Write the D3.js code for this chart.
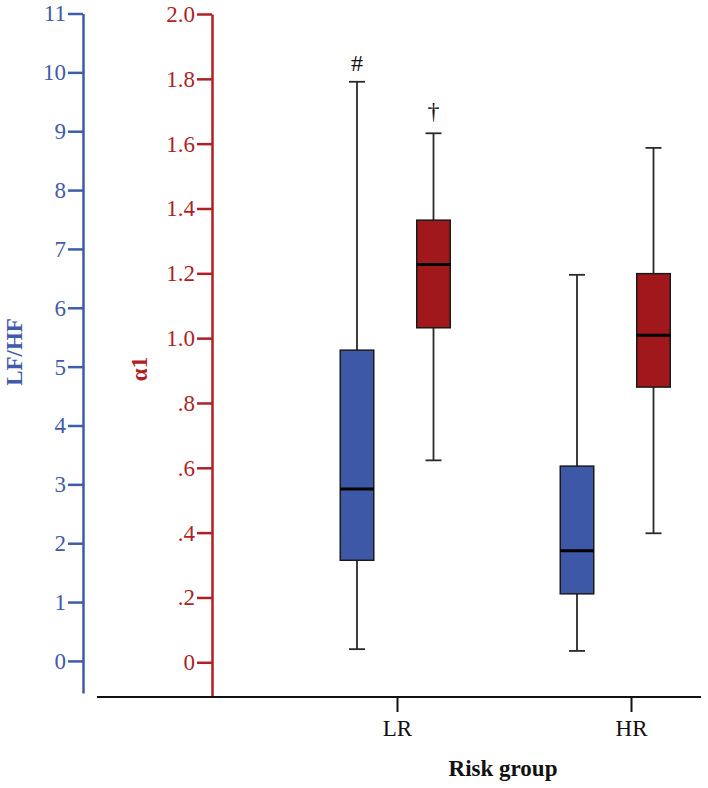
<!DOCTYPE html>
<html>
<head>
<meta charset="utf-8">
<script src="https://cdn.jsdelivr.net/npm/d3@7/dist/d3.min.js"></script>
<style>
  html, body { margin: 0; padding: 0; background: #fff; }
  svg { display: block; font-family: "Liberation Serif", "Times New Roman", serif; }
</style>
</head>
<body>
<svg id="chart" width="708" height="788"></svg>
<script>
// ---- data ----
const groups = ["LR", "HR"];
// LF/HF (left blue axis): [lowWhisker, q1, median, q3, highWhisker]
const lfhfStats = [
  [0.20, 1.71, 2.92, 5.28, 9.84],
  [0.17, 1.14, 1.87, 3.31, 6.56]
];
// alpha1 (red axis)
const alphaStats = [
  [0.623, 1.032, 1.227, 1.364, 1.632],
  [0.398, 0.849, 1.009, 1.199, 1.587]
];
const lfhfTicks = [0, 1, 2, 3, 4, 5, 6, 7, 8, 9, 10, 11];
const alphaTicks = [0, 0.2, 0.4, 0.6, 0.8, 1.0, 1.2, 1.4, 1.6, 1.8, 2.0];
const markers = [
  { series: "lfhf", group: "LR", text: "#" },
  { series: "alpha", group: "LR", text: "\u2020" }
];

// ---- styles ----
const blueAxis = "#3f5baa";
const redAxis = "#b01f24";
const blueFill = "#3e58a8";
const redFill = "#a0171c";
const fontSize = 23;

const svg = d3.select("#chart");

// scales
const yBlue = d3.scaleLinear().domain([-0.545, 11]).range([693, 13.5]);
const yRed = d3.scaleLinear().domain([-0.104, 2.0]).range([696, 14]);
const xAxisScale = d3.scalePoint().domain(groups).range([397, 631]);
const xBlue = d3.scalePoint().domain(groups).range([357, 577]);
const xRed = d3.scalePoint().domain(groups).range([433.5, 653.5]);
const boxW = 33.5, capW = 16;

// Blue axis
const gB = svg.append("g").attr("transform", "translate(83,0)")
  .call(d3.axisLeft(yBlue).tickValues(lfhfTicks).tickSize(15).tickSizeOuter(0).tickPadding(2).tickFormat(d3.format("d")));
gB.selectAll("path, line").attr("stroke", blueAxis).attr("stroke-width", 2.5);
gB.selectAll("text").attr("fill", blueAxis).style("font-size", fontSize + "px").style("font-family", "Liberation Serif");

// Red axis
const fmtRed = v => v === 0 ? "0" : (v < 1 ? "." + Math.round(v * 10) : v.toFixed(1));
const gR = svg.append("g").attr("transform", "translate(212,0)")
  .call(d3.axisLeft(yRed).tickValues(alphaTicks).tickSize(15).tickSizeOuter(0).tickPadding(2).tickFormat(fmtRed));
gR.selectAll("path, line").attr("stroke", redAxis).attr("stroke-width", 2.5);
gR.selectAll("text").attr("fill", redAxis).style("font-size", fontSize + "px").style("font-family", "Liberation Serif");

// X axis
const gX = svg.append("g").attr("transform", "translate(0,697)")
  .call(d3.axisBottom(xAxisScale).tickSize(15).tickSizeOuter(0).tickPadding(8));
gX.select(".domain").attr("d", "M97,0H701").attr("stroke", "#111").attr("stroke-width", 2);
gX.selectAll("line").attr("stroke", "#111").attr("stroke-width", 2);
gX.selectAll("text").attr("fill", "#111").style("font-size", fontSize + "px").style("font-family", "Liberation Serif");

// Axis titles
svg.append("text")
  .attr("transform", "translate(22,352) rotate(-90)")
  .attr("text-anchor", "middle")
  .attr("fill", blueAxis).style("font-weight", "bold").style("font-size", fontSize + "px")
  .text("LF/HF");
svg.append("text")
  .attr("transform", "translate(147,369) rotate(-90)")
  .attr("text-anchor", "middle")
  .attr("fill", redAxis).style("font-weight", "bold").style("font-size", fontSize + "px")
  .text("\u03b11");
svg.append("text")
  .attr("x", 503).attr("y", 776)
  .attr("text-anchor", "middle")
  .attr("fill", "#111").style("font-weight", "bold").style("font-size", fontSize + "px")
  .text("Risk group");

// Boxplots
function drawBoxes(stats, xs, ys, fill) {
  const g = svg.append("g");
  stats.forEach((s, i) => {
    const cx = xs(groups[i]);
    const [lo, q1, med, q3, hi] = s;
    const gg = g.append("g");
    const wc = "#2a2a2a", ww = 1.8;
    gg.append("line").attr("x1", cx).attr("x2", cx).attr("y1", ys(hi)).attr("y2", ys(q3))
      .attr("stroke", wc).attr("stroke-width", ww);
    gg.append("line").attr("x1", cx).attr("x2", cx).attr("y1", ys(q1)).attr("y2", ys(lo))
      .attr("stroke", wc).attr("stroke-width", ww);
    gg.append("line").attr("x1", cx - capW / 2).attr("x2", cx + capW / 2).attr("y1", ys(hi)).attr("y2", ys(hi))
      .attr("stroke", wc).attr("stroke-width", ww);
    gg.append("line").attr("x1", cx - capW / 2).attr("x2", cx + capW / 2).attr("y1", ys(lo)).attr("y2", ys(lo))
      .attr("stroke", wc).attr("stroke-width", ww);
    gg.append("rect").attr("x", cx - boxW / 2).attr("width", boxW)
      .attr("y", ys(q3)).attr("height", ys(q1) - ys(q3))
      .attr("fill", fill).attr("stroke", "#1a1a1a").attr("stroke-width", 1.5);
    gg.append("line").attr("x1", cx - boxW / 2).attr("x2", cx + boxW / 2).attr("y1", ys(med)).attr("y2", ys(med))
      .attr("stroke", "#000").attr("stroke-width", 3);
  });
}
drawBoxes(lfhfStats, xBlue, yBlue, blueFill);
drawBoxes(alphaStats, xRed, yRed, redFill);

// Significance markers above upper whiskers
markers.forEach(m => {
  const i = groups.indexOf(m.group);
  const isBlue = m.series === "lfhf";
  const cx = isBlue ? xBlue(m.group) : xRed(m.group);
  const top = isBlue ? yBlue(lfhfStats[i][4]) : yRed(alphaStats[i][4]);
  svg.append("text").attr("x", cx).attr("y", top - (isBlue ? 10.5 : 14))
    .attr("text-anchor", "middle").attr("fill", "#111")
    .style("font-size", "24px").style("font-family", "Liberation Serif")
    .text(m.text);
});
</script>
</body>
</html>
